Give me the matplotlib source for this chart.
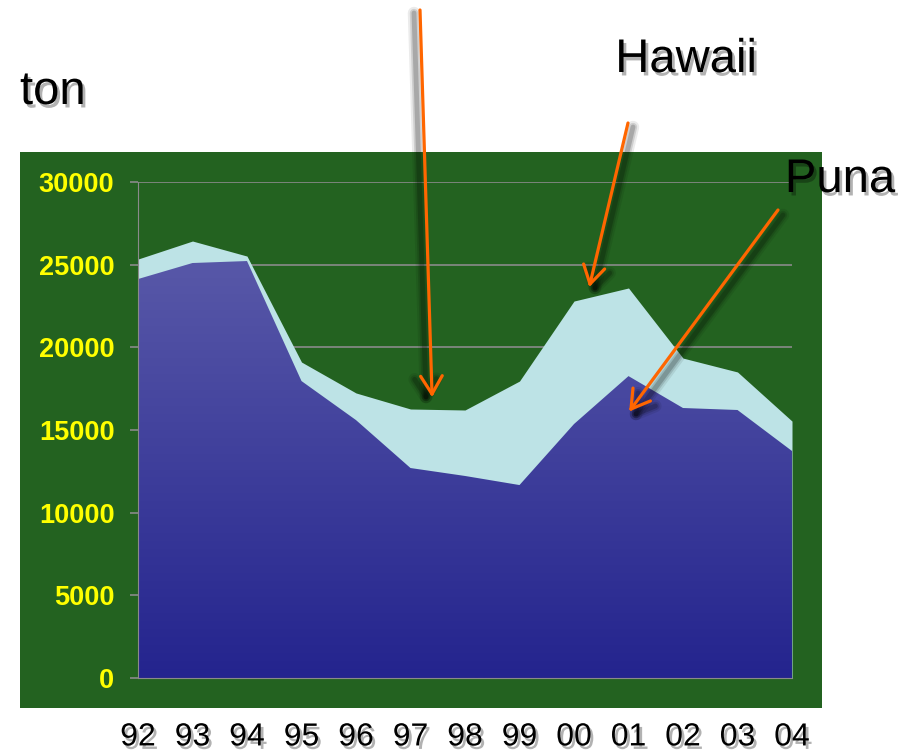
import numpy as np
import matplotlib
matplotlib.use('Agg')
import matplotlib.pyplot as plt
import matplotlib.patheffects as pe
from matplotlib.lines import Line2D
from matplotlib.patches import Rectangle

# yearly production, ton
years = ['92', '93', '94', '95', '96', '97', '98', '99', '00', '01', '02', '03', '04']
hawaii = [25340, 26430, 25520, 19110, 17240, 16270, 16210, 17960, 22800, 23590, 19350, 18510, 15540]
puna = [24130, 25100, 25220, 17960, 15600, 12700, 12220, 11670, 15360, 18260, 16330, 16210, 13730]
yticks = [0, 5000, 10000, 15000, 20000, 25000, 30000]

W, H = 909, 751
green = '#236220'
cyan = '#bde3e6'
orange = '#ff6600'

fig = plt.figure(figsize=(W / 100, H / 100), dpi=100)

def fx(x):
    return x / W

def fy(y):
    return 1 - y / H

# green panel behind the plot
fig.add_artist(Rectangle((fx(20), fy(708)), 802 / W, 556 / H,
                         transform=fig.transFigure, facecolor=green,
                         edgecolor='none', zorder=0))

ax = fig.add_axes([fx(138), fy(678), 654 / W, 496 / H])
ax.set_facecolor('none')
x = np.arange(len(years))

ax.fill_between(x, 0, hawaii, color=cyan, linewidth=0, zorder=1)
puna_fill = ax.fill_between(x, 0, puna, color='none', linewidth=0, zorder=2)

# vertical gradient for the Puna area
top_c = np.array([88, 88, 168]) / 255
bot_c = np.array([36, 36, 142]) / 255
t = np.linspace(0, 1, 256)[:, None]
grad = bot_c[None, :] * (1 - t) + top_c[None, :] * t
grad = grad[:, None, :]
im = ax.imshow(grad, extent=[0, len(years) - 1, 0, max(puna)], origin='lower',
               aspect='auto', zorder=2, interpolation='bilinear')
im.set_clip_path(puna_fill.get_paths()[0], ax.transData)

ax.set_xlim(0, len(years) - 1)
ax.set_ylim(0, 30000)
ax.set_yticks(yticks)
ax.set_yticklabels([str(v) for v in yticks])
ax.set_xticks(x)
ax.set_xticklabels(years)
ax.set_axisbelow(True)
ax.grid(axis='y', color='#8a8a8a', linewidth=1.2)
ax.grid(axis='x', visible=False)
for s in ['top', 'right']:
    ax.spines[s].set_visible(False)
ax.spines['left'].set_color('#8a8a8a')
ax.spines['bottom'].set_color('#8a8a8a')
ax.tick_params(axis='y', colors='#8a8a8a', length=6, width=1.2, pad=11,
               labelcolor='#ffff00')
ax.tick_params(axis='x', length=0, pad=32)
for lab in ax.get_yticklabels():
    lab.set_fontfamily('Liberation Sans')
    lab.set_fontweight('bold')
    lab.set_fontsize(19.5)

shadow = [pe.withSimplePatchShadow(offset=(2, -2.5), shadow_rgbFace='k', alpha=0.3)]
for lab in ax.get_xticklabels():
    lab.set_fontfamily('Liberation Sans')
    lab.set_fontsize(23)
    lab.set_color('black')
    lab.set_path_effects(shadow)

txt = dict(fontsize=34, family='Liberation Sans', color='black',
           transform=fig.transFigure, path_effects=shadow)
fig.text(fx(20), fy(92), 'ton', ha='left', va='center', **txt)
fig.text(fx(686), fy(60), 'Hawaii', ha='center', va='center', **txt)
fig.text(fx(840), fy(180), 'Puna', ha='center', va='center', **txt)

# pointer arrows with soft shadows
arrows = [((420, 10), (432, 394), (-6, 3)),
          ((628, 123), (590, 284), (5, 4)),
          ((778, 210), (631, 409), (5, 5))]

def arrow_lines(tail, tip, head=21, ang=31):
    tx, ty = tail
    hx, hy = tip
    d = np.arctan2(ty - hy, tx - hx)
    segs = [([tx, hx], [ty, hy])]
    for s in (-1, 1):
        a = d + s * np.radians(ang)
        segs.append(([hx, hx + head * np.cos(a)], [hy, hy + head * np.sin(a)]))
    return segs

for tail, tip, off in arrows:
    for xs, ys in arrow_lines(tail, tip):
        for lw, al in [(9, 0.08), (6, 0.12), (3.5, 0.18)]:
            fig.add_artist(Line2D([fx(v + off[0]) for v in xs], [fy(v + off[1]) for v in ys],
                                  transform=fig.transFigure, color='black', alpha=al,
                                  linewidth=lw, solid_capstyle='round', zorder=5))
    for xs, ys in arrow_lines(tail, tip):
        fig.add_artist(Line2D([fx(v) for v in xs], [fy(v) for v in ys],
                              transform=fig.transFigure, color=orange,
                              linewidth=2.3, solid_capstyle='round', zorder=6))

fig.savefig('out.png', dpi=100)
